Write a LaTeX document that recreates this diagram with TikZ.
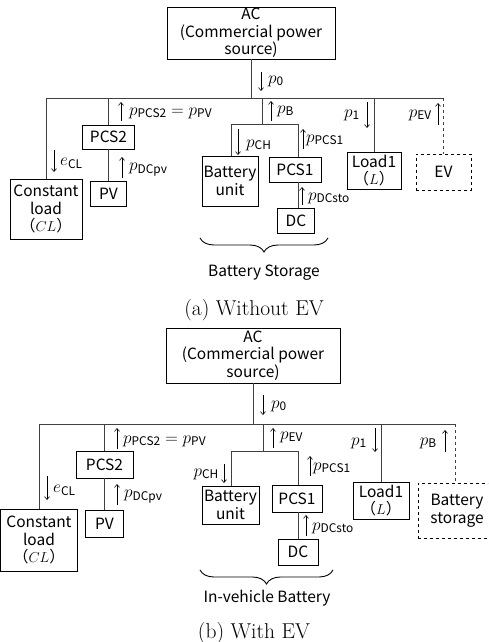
\documentclass[tikz,border=0pt]{standalone}
\usepackage{amsmath}
\usepackage{fontspec}
\newfontfamily\lbl{Noto Sans CJK JP}
\usetikzlibrary{arrows.meta,decorations.pathreplacing}
\newcommand{\sbx}[1]{\text{\lbl #1}}
\begin{document}
\begin{tikzpicture}[x=1pt,y=-1pt,
  box/.style={draw, line width=0.7pt, inner sep=0pt, align=center, font=\lbl\fontsize{15.5}{17.5}\selectfont},
  dbox/.style={box, dashed},
  wire/.style={line width=0.9pt, black!75},
  dwire/.style={wire, dashed},
  flow/.style={line width=0.6pt, -{Straight Barb[length=3pt,width=5pt]}},
  lab/.style={inner sep=0pt, font=\lbl\fontsize{17}{17}\selectfont},
  txt/.style={inner sep=0pt, font=\lbl\fontsize{15.5}{17}\selectfont},
  captxt/.style={inner sep=0pt, font=\fontsize{21.5}{21.5}\selectfont},
  brc/.style={decorate, decoration={brace, amplitude=14pt, mirror}, line width=0.9pt}
]
\clip (0,0) rectangle (488,642);
% ================= panel (a) =================
\node[box, minimum width=168pt, minimum height=52pt] (ac) at (251,33) {AC\\(Commercial power\\source)};
\node[box, minimum width=72pt, minimum height=60pt] (cl) at (46,209) {Constant\\load\\（$CL$）};
\node[box, minimum width=52pt, minimum height=24pt] (pcs2) at (108.5,137) {PCS2};
\node[box, minimum width=36pt, minimum height=25pt] (pv) at (108.5,193.5) {PV};
\node[box, minimum width=56pt, minimum height=50pt] (bat) at (230,181) {Battery\\unit};
\node[box, minimum width=52pt, minimum height=25pt] (pcs1) at (295,169.5) {PCS1};
\node[box, minimum width=37pt, minimum height=25pt] (dc) at (296,220.5) {DC};
\node[box, minimum width=54pt, minimum height=37pt] (load) at (374,170.5) {Load1\\（$L$）};
\node[dbox, minimum width=55pt, minimum height=36pt] (ev) at (443.5,172) {EV};

\coordinate (busL) at (46,98);
\coordinate (busR) at (443.5,98);
\coordinate (ra) at (231,124);
\coordinate (rb) at (298,124);
\coordinate (jc) at (262,124);

\draw[wire] (ac.south) -- (ac.south |- busL);
\draw[wire] (cl.north) |- (busR);
\draw[dwire] (busR) -- (ev.north);
\draw[wire] (pcs2.north) -- (pcs2.north |- busL);
\draw[wire] (pcs2.south) -- (pv.north);
\draw[wire] (jc) -- (jc |- busL);
\draw[wire] (bat.north -| ra) -- (ra) -- (rb) -- (rb |- pcs1.north);
\draw[wire] (pcs1.south -| rb) -- (dc.north -| rb);
\draw[wire] (load.north) -- (load.north |- busL);

\draw[flow] (261,72) -- (261,91);
\node[lab, anchor=west] (lp0) at (268,81) {$p_{\sbx{0}}$};
\draw[flow] (54,150) -- (54,172);
\node[lab, anchor=west] (lecl) at (60,163) {$e_{\sbx{CL}}$};
\draw[flow] (121,121) -- (121,102);
\node[lab, anchor=west] (lpcs2) at (129,113) {$p_{\sbx{PCS2}}=p_{\sbx{PV}}$};
\draw[flow] (122,178) -- (122,157);
\node[lab, anchor=west] (ldcpv) at (129,170) {$p_{\sbx{DCpv}}$};
\draw[flow] (271,121) -- (271,101);
\node[lab, anchor=west] (lpb) at (277,111) {$p_{\sbx{B}}$};
\draw[flow] (238,129) -- (238,155);
\node[lab, anchor=west] (lpch) at (246,145) {$p_{\sbx{CH}}$};
\draw[flow] (303,149) -- (303,129);
\node[lab, anchor=west] (lpcs1) at (306,140) {$p_{\sbx{PCS1}}$};
\draw[flow] (302,205) -- (302,187);
\node[lab, anchor=west] (ldcsto) at (308,198) {$p_{\sbx{DCsto}}$};
\draw[flow] (367,102) -- (367,128);
\node[lab, anchor=east] (lp1) at (360,115) {$p_{\sbx{1}}$};
\draw[flow] (438,125) -- (438,103);
\node[lab, anchor=east] (lpev) at (432,115) {$p_{\sbx{EV}}$};

\coordinate (bra1) at (200,238);
\coordinate (bra2) at (328,238);
\draw[brc] (bra1) -- (bra2);
\node[txt] (bst) at (264,273) {Battery Storage};
\node[captxt] (capa) at (254,310) {(a) Without EV};

% ================= panel (b) =================
\node[box, minimum width=174pt, minimum height=55pt] (ac2) at (253,355.5) {AC\\(Commercial power\\source)};
\node[box, minimum width=77pt, minimum height=62pt] (cl2) at (39,540) {Constant\\load\\（$CL$）};
\node[box, minimum width=57pt, minimum height=27pt] (pcs22) at (104.5,464.5) {PCS2};
\node[box, minimum width=38pt, minimum height=27pt] (pv2) at (104.5,523.5) {PV};
\node[box, minimum width=57pt, minimum height=38pt] (bat2) at (230.5,505) {Battery\\unit};
\node[box, minimum width=50pt, minimum height=27pt] (pcs12) at (297,498.5) {PCS1};
\node[box, minimum width=40pt, minimum height=26pt] (dc2) at (298,552) {DC};
\node[box, minimum width=56pt, minimum height=37pt] (load2) at (381,500.5) {Load1\\（$L$）};
\node[dbox, minimum width=78pt, minimum height=55pt] (bs2) at (457,510.5) {Battery\\storage};

\coordinate (busL2) at (39,424);
\coordinate (busR2) at (455,424);
\coordinate (ra2) at (231,451);
\coordinate (rb2) at (298,451);
\coordinate (jc2) at (263,451);

\draw[wire] (ac2.south) -- (ac2.south |- busL2);
\draw[wire] (cl2.north) |- (busR2);
\draw[dwire] (busR2) -- (busR2 |- bs2.north);
\draw[wire] (pcs22.north) -- (pcs22.north |- busL2);
\draw[wire] (pcs22.south) -- (pv2.north);
\draw[wire] (jc2) -- (jc2 |- busL2);
\draw[wire] (bat2.north -| ra2) -- (ra2) -- (rb2) -- (rb2 |- pcs12.north);
\draw[wire] (pcs12.south -| rb2) -- (dc2.north -| rb2);
\draw[wire] (load2.north) -- (load2.north |- busL2);

\draw[flow] (263,395) -- (263,415);
\node[lab, anchor=west] (lp02) at (271,406) {$p_{\sbx{0}}$};
\draw[flow] (47,476) -- (47,500);
\node[lab, anchor=west] (lecl2) at (53,490) {$e_{\sbx{CL}}$};
\draw[flow] (117,449) -- (117,428);
\node[lab, anchor=west] (lpcs22) at (123,441) {$p_{\sbx{PCS2}}=p_{\sbx{PV}}$};
\draw[flow] (117,505) -- (117,484);
\node[lab, anchor=west] (ldcpv2) at (124,497) {$p_{\sbx{DCpv}}$};
\draw[flow] (273,448) -- (273,428);
\node[lab, anchor=west] (lpev2) at (280,437) {$p_{\sbx{EV}}$};
\draw[flow] (224,464) -- (224,483);
\node[lab, anchor=east] (lpch2) at (219,474) {$p_{\sbx{CH}}$};
\draw[flow] (310,476) -- (310,456);
\node[lab, anchor=west] (lpcs12) at (313,468) {$p_{\sbx{PCS1}}$};
\draw[flow] (306,536) -- (306,515);
\node[lab, anchor=west] (ldcsto2) at (312,528) {$p_{\sbx{DCsto}}$};
\draw[flow] (375,428) -- (375,452);
\node[lab, anchor=east] (lp12) at (367,443) {$p_{\sbx{1}}$};
\draw[flow] (445,452) -- (445,430);
\node[lab, anchor=east] (lpb2) at (437,443) {$p_{\sbx{B}}$};

\coordinate (brb1) at (200,570);
\coordinate (brb2) at (333,570);
\draw[brc] (brb1) -- (brb2);
\node[txt] (ivb) at (267,598) {In-vehicle Battery};
\node[captxt] (capb) at (254,633) {(b) With EV};
\end{tikzpicture}
\end{document}
